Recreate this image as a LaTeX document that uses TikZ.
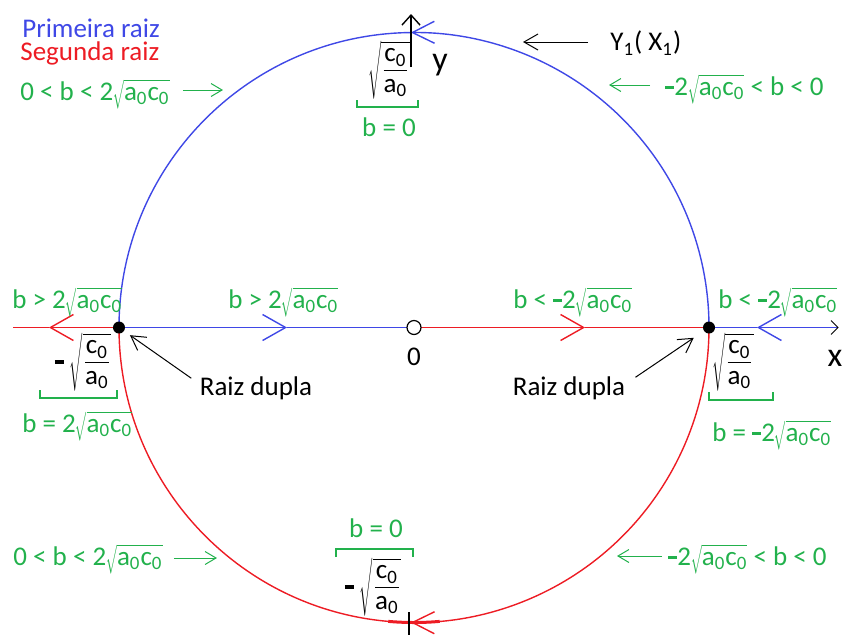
\documentclass[tikz,border=0pt]{standalone}
\usepackage{amsmath}
\usepackage{graphicx}
\usepackage{fontspec}
\setmainfont{Carlito}
\usetikzlibrary{arrows.meta}
\definecolor{rootblue}  {RGB}{ 63,  72, 230}
\definecolor{rootred}   {RGB}{237,  28,  36}
\definecolor{labelgreen}{RGB}{ 34, 177,  76}
\newsavebox{\radbox}
\newsavebox{\radarg}
\newcommand{\nsqrt}[2][1]{%
  \sbox{\radarg}{#2}%
  \sbox{\radbox}{$\sqrt{\vphantom{\usebox{\radarg}}}$}%
  \scalebox{0.45}[#1]{\usebox{\radbox}}%
  \rlap{\rule[\dimexpr#1\ht\radbox-#1\dimexpr1.15pt\relax\relax]{\wd\radarg}{#1\dimexpr0.58pt\relax}}%
  \usebox{\radarg}}
\newcommand{\sqac}{\nsqrt{a\textsubscript{0}c\textsubscript{0}}}
\newcommand{\sqca}{\nsqrt[1.12]{$\frac{\mbox{c\textsubscript{0}\rule[-3.5pt]{0pt}{3.5pt}}}%
                                       {\mbox{\rule{0pt}{10pt}a\textsubscript{0}}}$}}
\newcommand{\bminus}{\rule[2.8pt]{4.5pt}{1.9pt}}

\begin{document}
\begin{tikzpicture}[
  x=50pt, y=50pt,
  every node/.style={font=\fontsize{13.5}{16}\selectfont,inner sep=0pt},
  axis/.style={line width=0.7pt},
  tip/.style={-{Straight Barb[length=11.5pt,width=13pt]}},
  dot/.style={circle,fill=black,inner sep=0pt,minimum size=6pt},
  garr/.style={labelgreen,line width=0.5pt,-{Straight Barb[length=5.5pt,width=6.5pt]}},
  karr/.style={line width=0.5pt,-{Straight Barb[length=7pt,width=8pt]}},
  brk/.style={labelgreen,line width=0.6pt},
]
\useasboundingbox (-4.14,-3.065) rectangle (4.30,3.275);

%% Circle: first root (upper half), second root (lower half)
\draw[rootblue,axis,-{Straight Barb[length=11pt,width=11pt]}]
  (2.95,0) arc[start angle=0,end angle=90.6,radius=2.95];
\draw[rootblue,axis] (90.6:2.95) arc[start angle=90.6,end angle=180,radius=2.95];
\draw[rootred,axis,-{Straight Barb[length=11pt,width=11pt]}]
  (2.95,0) arc[start angle=0,end angle=-90.6,radius=2.95];
\draw[rootred,axis] (-90.6:2.95) arc[start angle=-90.6,end angle=-180,radius=2.95];
\draw[rootred,line width=1.5pt] (-95:2.95) arc[start angle=-95,end angle=-85,radius=2.95];

%% ── Horizontal axis ──────────────────────────────────────────────────────
\draw[rootred,axis,tip] (-2.95,0) -- (-3.65,0);
\draw[rootred,axis] (-3.65,0) -- (-4.01,0);
\draw[rootblue,axis,tip] (-2.95,0) -- (-1.27,0);
\draw[rootblue,axis] (-1.27,0) -- (0,0);
\draw[rootred,axis,tip] (0,0) -- (1.71,0);
\draw[rootred,axis] (1.71,0) -- (2.95,0);
\draw[rootblue,axis,tip] (4.24,0) -- (3.43,0);
\draw[rootblue,axis] (3.43,0) -- (2.95,0);
\draw[line width=0.5pt] (4.17,0.07) -- (4.24,0) -- (4.17,-0.07);
\node (xlbl) at (4.21,-0.305) {\fontsize{17}{20}\selectfont x};

%% ── Vertical axis ────────────────────────────────────────────────────────
\draw[axis,-{Straight Barb[length=5pt,width=9pt]}] (-0.03,2.605) -- (-0.03,3.135);
\draw[axis] (-0.05,-2.845) -- (-0.05,-3.1);
\node (ylbl) at (0.26,2.625) {\fontsize{17}{20}\selectfont y};

%% Double roots and origin
\node[dot] (rootL) at (-2.95,0) {};
\node[dot] (rootR) at (2.95,0) {};
\node[draw,circle,fill=white,inner sep=0pt,minimum size=7pt,line width=0.6pt] (orig) at (0,0) {};
\node (zero) at (0,-0.295) {0};

%% ── Legend ───────────────────────────────────────────────────────────────
\node[rootblue,anchor=base west] (first) at (-3.92,2.905) {Primeira raiz};
\node[rootred,anchor=base west] (second) at (-3.94,2.675) {Segunda raiz};

%% ── Top ──────────────────────────────────────────────────────────────────
\node[labelgreen,anchor=base west] (intTL) at (-3.94,2.275) {0 < b < 2\sqac};
\coordinate (tipTL) at (-1.91,2.375);
\draw[garr,shorten <=6.5pt] (intTL.east |- tipTL) -- (tipTL);

\node (sqTop) at (-0.25,2.575) {\sqca};
\node[labelgreen] (bzTop) at (-0.25,2.005) {b = 0};

\node[anchor=west] (yx) at (1.96,2.845) {Y\textsubscript{1}( X\textsubscript{1})};
\coordinate (tipY) at (1.09,2.855);
\draw[karr,shorten <=11pt] (yx.west |- tipY) -- (tipY);

\node[labelgreen,anchor=base west] (intTR) at (2.51,2.325) {\bminus 2\sqac{} < b < 0};
\coordinate (tipTR) at (1.95,2.425);
\draw[garr,shorten <=7.5pt] (intTR.west |- tipTR) -- (tipTR);

%% ── Middle ───────────────────────────────────────────────────────────────
\node[labelgreen,anchor=base west] (gtL) at (-4.02,0.195) {b > 2\sqac};
\node[labelgreen,anchor=base west] (gtM) at (-1.86,0.195) {b > 2\sqac};
\node[labelgreen,anchor=base west] (ltM) at (0.99,0.195) {b < \bminus 2\sqac};
\node[labelgreen,anchor=base west] (ltR) at (3.04,0.195) {b < \bminus 2\sqac};

\node (sqL) at (-3.31,-0.345) {\bminus\hspace{3pt}\sqca};
\node (sqR) at (3.19,-0.345) {\sqca};
\node[labelgreen,anchor=base west] (eqL) at (-3.92,-1.045) {b = 2\sqac};
\node[labelgreen,anchor=base west] (eqR) at (2.98,-1.135) {b = \bminus 2\sqac};

\node (raizL) at (-1.58,-0.605) {Raiz dupla};
\node (raizR) at (1.55,-0.605) {Raiz dupla};
\draw[karr,shorten <=5pt,shorten >=3.5pt] ([yshift=2pt]raizL.west) -- (rootL);
\draw[karr,shorten <=6pt,shorten >=6pt] ([yshift=2pt]raizR.east) -- (rootR);

%% ── Bottom ───────────────────────────────────────────────────────────────
\node[labelgreen,anchor=base west] (intBL) at (-4.01,-2.375) {0 < b < 2\sqac};
\coordinate (tipBL) at (-1.97,-2.305);
\draw[garr,shorten <=5.5pt] (intBL.east |- tipBL) -- (tipBL);

\node[labelgreen,anchor=base west] (intBR) at (2.54,-2.375) {\bminus 2\sqac{} < b < 0};
\coordinate (tipBR) at (2.03,-2.285);
\draw[garr,shorten <=3pt] (intBR.west |- tipBR) -- (tipBR);

\node[labelgreen] (bzBot) at (-0.38,-2.005) {b = 0};
\node (sqBot) at (-0.41,-2.595) {\bminus\hspace{3pt}\sqca};

%% Brackets under / over the special values
\foreach \xa/\xb/\yb/\h in {-0.57/0.04/2.205/0.07, -3.74/-2.97/-0.705/0.08,
                            2.95/3.59/-0.725/0.08, -0.78/-0.01/-2.215/-0.08} {
  \draw[brk] (\xa,\yb+\h) -- (\xa,\yb) -- (\xb,\yb) -- (\xb,\yb+\h);
}

\end{tikzpicture}
\end{document}
